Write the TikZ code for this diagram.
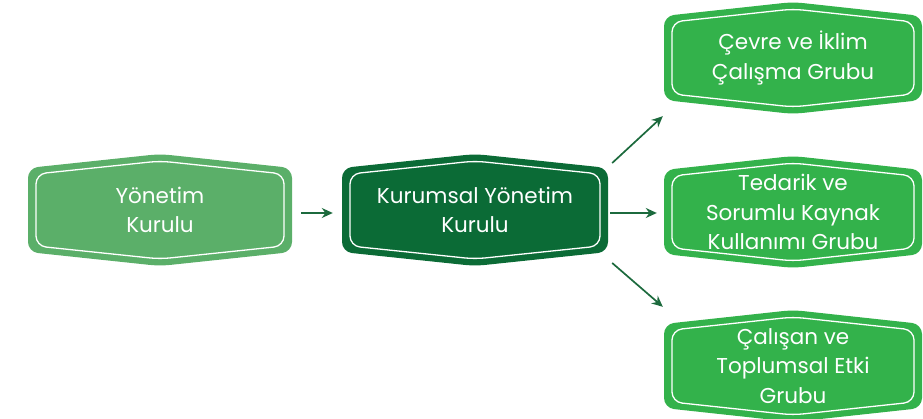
\documentclass[tikz,border=0pt]{standalone}
\usepackage{fontspec}
\setmainfont{Poppins}
\usetikzlibrary{arrows.meta,calc}
\definecolor{gLeft}{HTML}{5BAF69}
\definecolor{gMid}{HTML}{0B6B36}
\definecolor{gRight}{HTML}{33B24B}
\definecolor{gArrow}{HTML}{1C6A3D}
\tikzset{
  boxtext/.style={text=white, align=center, font=\fontsize{21.5}{29.5}\selectfont, inner sep=0pt},
  arr/.style={draw=gArrow, line width=1.7pt, -{Stealth[length=11pt,width=10pt]}},
}
% \hexbox{name}{cx}{cy}{hw}{colour}{text}
\newcommand{\hexbox}[6]{%
  \fill[#5, rounded corners=10pt]
    (#2-#4,#3-42) -- (#2,#3-56) -- (#2+#4,#3-42) -- (#2+#4,#3+42)
    -- (#2,#3+56) -- (#2-#4,#3+42) -- cycle;
  \draw[white, line width=1.3pt, rounded corners=10pt]
    (#2-#4+8,#3-36) -- (#2,#3-49) -- (#2+#4-8,#3-36) -- (#2+#4-8,#3+36)
    -- (#2,#3+49) -- (#2-#4+8,#3+36) -- cycle;
  \node[boxtext, minimum width=2*#4*1pt, minimum height=112pt] (#1) at (#2,#3) {#6};
}
\begin{document}
\begin{tikzpicture}[x=1pt,y=-1pt]
\useasboundingbox (0,0) rectangle (923,419);
\hexbox{yk}{160}{210}{132}{gLeft}{Yönetim\\Kurulu}
\hexbox{kyk}{475}{210}{133}{gMid}{Kurumsal Yönetim\\Kurulu}
\hexbox{cik}{793}{58}{129}{gRight}{Çevre ve İklim\\Çalışma Grubu}
\hexbox{tsk}{793}{212}{129}{gRight}{Tedarik ve\\Sorumlu Kaynak\\Kullanımı Grubu}
\hexbox{cte}{793}{366}{129}{gRight}{Çalışan ve\\Toplumsal Etki\\Grubu}
\coordinate (upS) at ($(kyk.east)+(4,-47)$);
\coordinate (upE) at ($(cik.south west)+(-1,2)$);
\coordinate (dnS) at ($(kyk.east)+(4,53)$);
\coordinate (dnE) at ($(cte.north west)+(-1,-3)$);
\draw[arr] ($(yk.east)+(9,3)$) -- ($(kyk.west)+(-9,3)$);
\draw[arr] ($(kyk.east)+(2,3)$) -- ($(tsk.west)+(-7,1)$);
\draw[arr] (upS) -- (upE);
\draw[arr] (dnS) -- (dnE);
\end{tikzpicture}
\end{document}
